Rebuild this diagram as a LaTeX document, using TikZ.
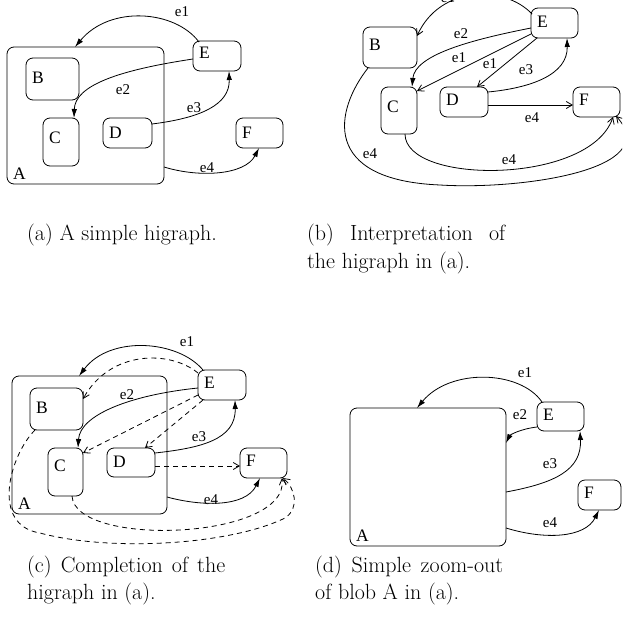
\documentclass[tikz,border=0pt]{standalone}
\usepackage{fontspec}
\newfontfamily\tnr{Liberation Serif}
\usetikzlibrary{arrows.meta}
\newcommand\boxfont{\tnr\fontsize{17.5}{20}\selectfont}
\newcommand\edgefont{\tnr\fontsize{15}{18}\selectfont}
\newcommand\capfont{\fontsize{22}{28}\selectfont}
\tikzset{
  blob/.style={draw, rounded corners=7pt, inner sep=0pt, outer sep=0pt, line width=0.8pt},
  boxlab/.style={font=\boxfont, inner sep=0pt},
  elab/.style={font=\edgefont, inner sep=0pt},
  conn/.style={line width=0.8pt},
  fa/.style={conn, -{Latex[length=9pt,width=5.5pt]}},
  oa/.style={conn, -{Straight Barb[length=6pt,width=7pt]}},
  da/.style={oa, dash pattern=on 5pt off 4pt},
  captext/.style={font=\capfont, inner sep=0pt, anchor=base west},
}
% name, x1, y1, x2, y2, label, baseline offset from top
\newcommand\blobnode[7]{%
  \node[blob, minimum width={#4-#2}, minimum height={#5-#3}] (#1) at ({(#2+#4)/2},{(#3+#5)/2}) {};
  \node[boxlab, anchor=base west] (#1l) at ([xshift=6pt,yshift=-#7pt]#1.north west) {#6};}
\newcommand\bigblob[5]{%
  \node[blob, minimum width={#4-#2}, minimum height={#5-#3}] (#1) at ({(#2+#4)/2},{(#3+#5)/2}) {};
  \node[boxlab, anchor=base west] (#1l) at ([xshift=6pt,yshift=5pt]#1.south west) {A};}
\begin{document}
\begin{tikzpicture}[x=1pt,y=-1pt]
\clip (0,0) rectangle (622,642);
% ---------------- (a)
\bigblob{Aa}{7}{47}{164}{184}
\blobnode{Ba}{26}{58}{79}{100}{B}{25}
\blobnode{Ca}{43}{118}{79}{166}{C}{25}
\blobnode{Da}{103}{118}{152}{148}{D}{20}
\blobnode{Ea}{193}{41}{241}{71}{E}{18}
\blobnode{Fa}{236}{118}{283}{148}{F}{20}
\draw[fa] ([xshift=6pt,yshift=-1pt]Ea.north west) .. controls (175,10) and (110,5) .. ([xshift=68pt]Aa.north west);
\draw[fa] ([yshift=-18pt]Ea.north west) .. controls (120,70) and (75,85) .. ([xshift=31pt]Ca.north west);
\draw[fa] ([yshift=-6pt]Da.north east) .. controls (200,118) and (230,105) .. ([xshift=-12pt]Ea.south east);
\draw[fa] ([yshift=17pt]Aa.south east) .. controls (200,178) and (245,175) .. ([xshift=23pt]Fa.south west);
\node[elab] (a1) at (182,12) {e1};
\node[elab] (a2) at (123,90) {e2};
\node[elab] (a3) at (194,108) {e3};
\node[elab] (a4) at (207,168) {e4};
% ---------------- (b)
\blobnode{Bb}{363}{27}{417}{68}{B}{24}
\blobnode{Cb}{381}{87}{417}{134}{C}{25}
\blobnode{Db}{440}{87}{488}{117}{D}{18}
\blobnode{Eb}{531}{8}{578}{38}{E}{20}
\blobnode{Fb}{573}{87}{620}{117}{F}{18}
\draw[oa] ([xshift=1pt,yshift=-6pt]Eb.north west) .. controls (505,-15) and (440,-15) .. ([yshift=-9pt]Bb.north east);
\draw[fa] ([yshift=-20pt]Eb.north west) .. controls (470,40) and (415,55) .. ([xshift=-5pt]Cb.north east);
\draw[oa] ([yshift=4pt]Eb.south west) -- ([yshift=-4pt]Cb.north east);
\draw[oa] ([xshift=6pt]Eb.south west) -- ([xshift=-11pt]Db.north east);
\draw[fa] ([yshift=-5pt]Db.north east) .. controls (530,88) and (568,75) .. ([xshift=-11pt]Eb.south east);
\draw[oa] ([yshift=-3pt]Db.east) -- ([yshift=-3pt]Fb.west);
\draw[oa] ([xshift=-12pt]Cb.south east) .. controls (405,185) and (590,185) .. ([xshift=-7pt]Fb.south east);
\draw[oa] ([xshift=5pt]Bb.south west) .. controls (335,110) and (320,180) .. (440,185) .. controls (520,190) and (665,170) .. ([xshift=-4pt,yshift=1pt]Fb.south east);
\node[elab] (b1) at (448,-2) {e1};
\node[elab] (b2) at (461,34) {e2};
\node[elab] (b3) at (459,58) {e1};
\node[elab] (b4) at (490,64) {e1};
\node[elab] (b5) at (526,70) {e3};
\node[elab] (b6) at (532,118) {e4};
\node[elab] (b7) at (370,154) {e4};
\node[elab] (b8) at (509,160) {e4};
% ---------------- (c)
\bigblob{Ac}{12}{376}{167}{514}
\blobnode{Bc}{30}{388}{83}{430}{B}{25}
\blobnode{Cc}{48}{448}{83}{496}{C}{23}
\blobnode{Dc}{107}{448}{155}{477}{D}{19}
\blobnode{Ec}{198}{370}{246}{400}{E}{18}
\blobnode{Fc}{240}{448}{287}{478}{F}{18}
\draw[fa] ([xshift=5pt]Ec.north west) .. controls (178,340) and (110,335) .. ([xshift=67pt]Ac.north west);
\draw[da] ([yshift=-3pt]Ec.north west) .. controls (170,350) and (110,350) .. ([yshift=-11pt]Bc.north east);
\draw[fa] ([yshift=-18pt]Ec.north west) .. controls (130,395) and (80,415) .. ([xshift=-5pt]Cc.north east);
\draw[da] ([yshift=5pt]Ec.south west) -- ([yshift=-5pt]Cc.north east);
\draw[da] ([xshift=5pt]Ec.south west) -- ([xshift=-10pt]Dc.north east);
\draw[fa] ([yshift=-5pt]Dc.north east) .. controls (200,448) and (236,440) .. ([xshift=-11pt]Ec.south east);
\draw[da] ([yshift=11pt]Dc.south east) -- ([yshift=12pt]Fc.south west);
\draw[fa] ([yshift=17pt]Ac.south east) .. controls (200,506) and (245,508) .. ([xshift=20pt]Fc.south west);
\draw[da] ([xshift=-11pt]Cc.south east) .. controls (75,548) and (290,540) .. ([xshift=-5pt]Fc.south east);
\draw[da] ([xshift=5pt]Bc.south west) .. controls (10,455) and (-10,525) .. (40,533) .. controls (110,552) and (230,545) .. (285,518) .. controls (300,508) and (295,488) .. ([xshift=-4pt]Fc.south east);
\node[elab] (c1) at (187,342) {e1};
\node[elab] (c2) at (127,395) {e2};
\node[elab] (c3) at (199,437) {e3};
\node[elab] (c4) at (211,500) {e4};
% ---------------- (d)
\bigblob{Ad}{350}{408}{506}{546}
\blobnode{Ed}{537}{402}{584}{431}{E}{18}
\blobnode{Fd}{578}{480}{621}{510}{F}{18}
\draw[fa] ([xshift=5pt]Ed.north west) .. controls (520,370) and (450,368) .. ([xshift=67pt]Ad.north west);
\draw[fa] ([yshift=4pt]Ed.south west) .. controls (520,429) and (510,435) .. ([yshift=-35pt]Ad.north east);
\draw[fa] ([yshift=54pt]Ad.south east) .. controls (555,483) and (582,470) .. ([xshift=-4pt]Ed.south east);
\draw[fa] ([yshift=18pt]Ad.south east) .. controls (545,540) and (585,538) .. ([xshift=21pt]Fd.south west);
\node[elab] (d1) at (525,373) {e1};
\node[elab] (d2) at (520,415) {e2};
\node[elab] (d3) at (550,464) {e3};
\node[elab] (d4) at (550,523) {e4};
% ---------------- captions
\node[captext] (capa) at (27,240) {(a) A simple higraph.};
\node[captext] (capb1) at (307,240) {\makebox[198pt][s]{(b) Interpretation of}};
\node[captext] (capb2) at (307,268) {the higraph in (a).};
\node[captext] (capc1) at (27,572) {\makebox[198pt][s]{(c) Completion of the}};
\node[captext] (capc2) at (27,599) {higraph in (a).};
\node[captext] (capd1) at (315,572) {\makebox[188pt][s]{(d) Simple zoom-out}};
\node[captext] (capd2) at (315,599) {of blob A in (a).};
\end{tikzpicture}
\end{document}
